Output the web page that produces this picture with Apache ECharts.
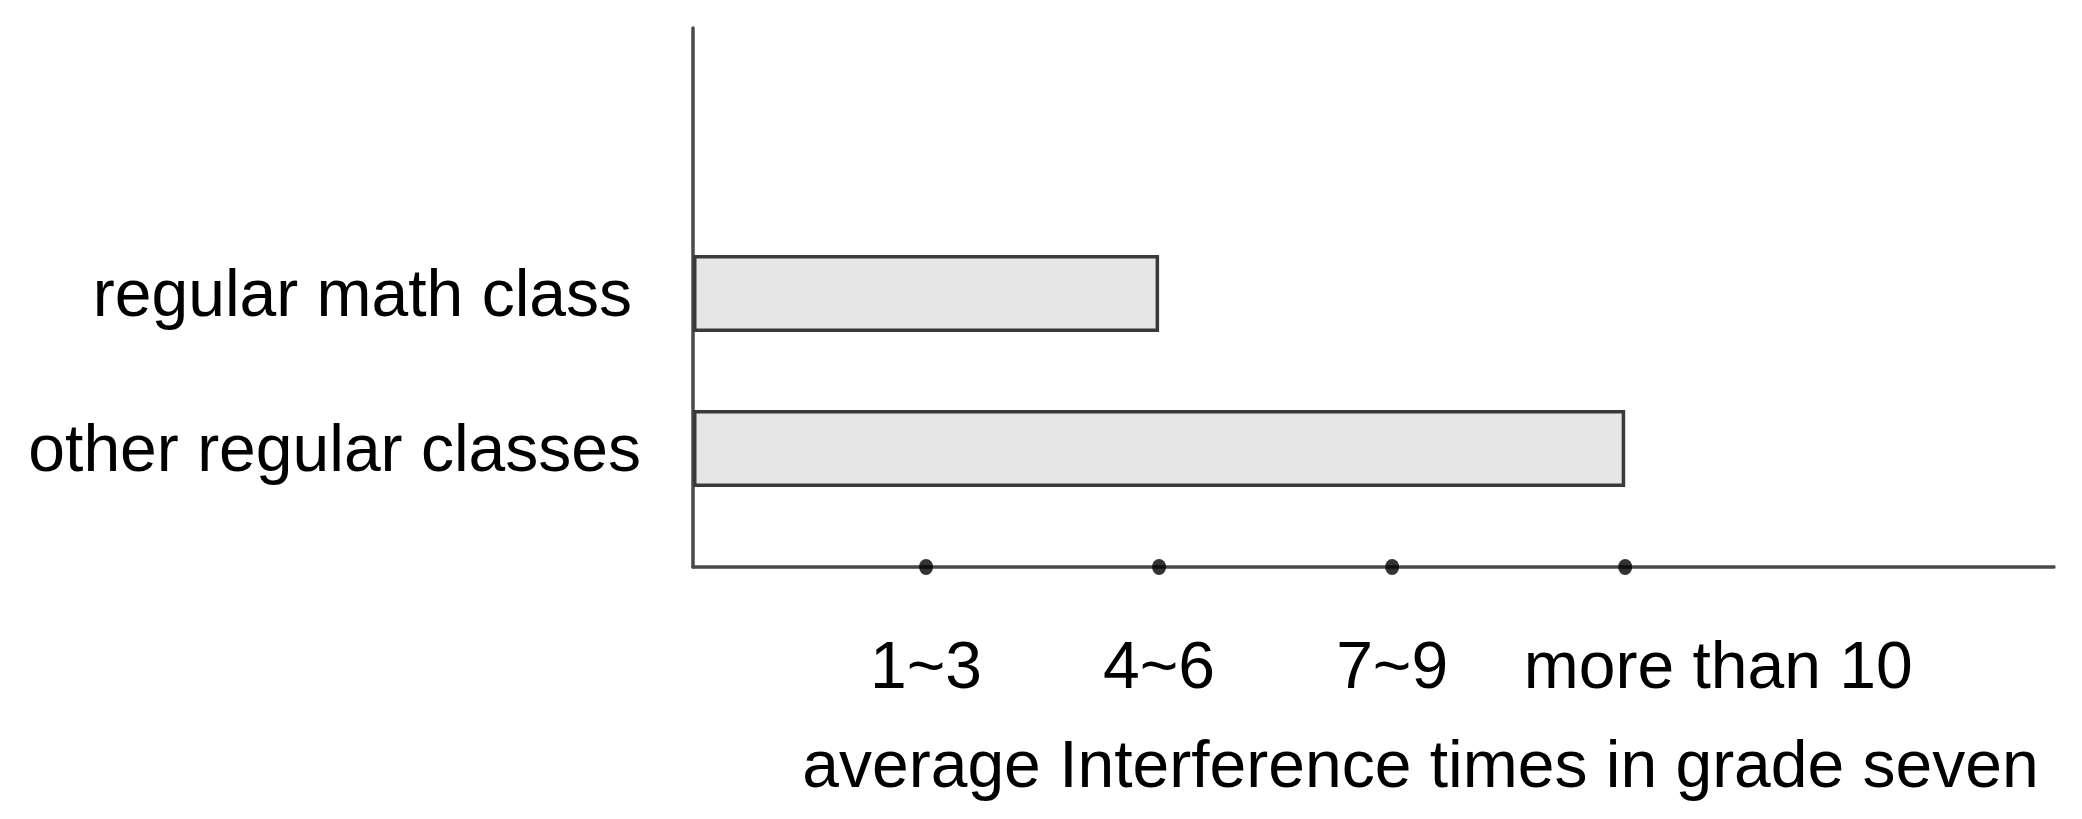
<!DOCTYPE html>
<html>
<head>
<meta charset="utf-8">
<script src="https://cdn.jsdelivr.net/npm/echarts@6/dist/echarts.min.js"></script>
<style>
  html, body { margin: 0; padding: 0; background: #fff; }
  #chart { width: 2082px; height: 819px; }
</style>
</head>
<body>
<div id="chart"></div>
<script>
// categories (top to bottom) and their bar values on the 1..4 scale
var categories = ['regular math class', 'other regular classes'];
var values = [2, 4];
// tick positions on the x axis and their labels
var tickValues = [1, 2, 3, 4];
var tickLabels = ['1~3', '4~6', '7~9', 'more than 10'];
var xName = 'average Interference times in grade seven';

var font = "'Liberation Sans', Arial, sans-serif";
var axisColor = '#4a4a4a';
var xMax = 5.84;

var chart = echarts.init(document.getElementById('chart'));

var options = {
    backgroundColor: '#fff',
    animation: false,
    grid: [
        // frame with the visible axes
        { left: 693, right: 28, top: 28, bottom: 252 },
        // band area for the bars
        { left: 693, right: 28, top: 216, bottom: 293 }
    ],
    xAxis: [
        {
            type: 'value',
            gridIndex: 0,
            min: 0,
            max: xMax,
            interval: 1,
            splitLine: { show: false },
            axisTick: { show: false },
            axisLine: { show: true, lineStyle: { color: axisColor, width: 3.5 } },
            axisLabel: {
                margin: 70,
                fontFamily: font,
                fontSize: 66,
                color: '#000',
                formatter: function (v) {
                    var i = tickValues.indexOf(v);
                    if (i < 0) return '';
                    if (i === tickLabels.length - 1) return '{far|' + tickLabels[i] + '}';
                    return tickLabels[i];
                },
                rich: {
                    far: { fontFamily: font, fontSize: 66, color: '#000', padding: [0, 0, 0, 186] }
                }
            },
            name: xName,
            nameLocation: 'middle',
            nameGap: 169,
            nameTextStyle: {
                fontFamily: font,
                fontSize: 66,
                color: '#000',
                padding: [0, 0, 0, 94]
            }
        },
        {
            type: 'value',
            gridIndex: 1,
            min: 0,
            max: xMax,
            show: false
        }
    ],
    yAxis: [
        {
            type: 'value',
            gridIndex: 0,
            min: 0,
            max: 1,
            splitLine: { show: false },
            axisTick: { show: false },
            axisLabel: { show: false },
            axisLine: { show: true, lineStyle: { color: axisColor, width: 3.5 } }
        },
        {
            type: 'category',
            gridIndex: 1,
            inverse: true,
            data: categories,
            axisLine: { show: false },
            axisTick: { show: false },
            axisLabel: {
                margin: 52,
                fontFamily: font,
                fontSize: 66,
                color: '#000',
                formatter: function (v, i) {
                    return i === 0 ? '{near|' + v + '}' : '{far|' + v + '}';
                },
                rich: {
                    near: { fontFamily: font, fontSize: 66, color: '#000', padding: [8, 9, 0, 0] },
                    far: { fontFamily: font, fontSize: 66, color: '#000', padding: [8, 0, 0, 0] }
                }
            }
        }
    ],
    series: [
        {
            type: 'bar',
            xAxisIndex: 1,
            yAxisIndex: 1,
            data: values,
            barWidth: 77,
            itemStyle: {
                color: '#e6e6e6',
                borderColor: '#3a3a3a',
                borderWidth: 3.5
            }
        },
        {
            type: 'scatter',
            xAxisIndex: 0,
            yAxisIndex: 0,
            clip: false,
            symbol: 'circle',
            symbolSize: [14, 16],
            itemStyle: { color: '#000' },
            data: tickValues.map(function (v) { return [v, 0]; }),
            z: 5
        }
    ]
};

chart.setOption(options);
</script>
</body>
</html>
